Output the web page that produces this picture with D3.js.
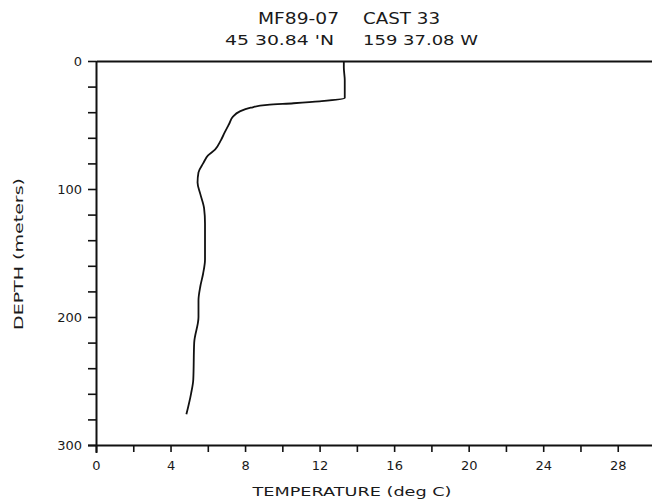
<!DOCTYPE html>
<html><head><meta charset="utf-8">
<script src="https://cdn.jsdelivr.net/npm/d3@7"></script>
<style>
body{margin:0;background:#fff;}
svg{display:block;}
text{font-family:"DejaVu Sans",sans-serif;fill:#1a1a1a;}
</style></head>
<body>
<script>
// Data: temperature (deg C) vs depth (m)
const temperature = [13.3,13.3,13.35,13.35,12.0,10.6,9.2,8.3,7.7,7.35,7.15,6.9,6.7,6.4,6.0,5.75,5.5,5.45,5.6,5.8,5.85,5.85,5.85,5.75,5.6,5.5,5.5,5.27,5.22,5.1,4.85];
const depth       = [0,5,15,29,31.5,33,34.3,36.5,39.5,43.5,49,56,62,69,74,80,87,95,104,115,127,140,155,166,176,187,200,220,249,260,276];
const xTickValues = [0,2,4,6,8,10,12,14,16,18,20,22,24,26,28];
const yTickValues = [0,20,40,60,80,100,120,140,160,180,200,220,240,260,280,300];
const titleLine1 = ["MF89-07","CAST 33"];
const titleLine2 = ["45 30.84 'N","159 37.08 W"];
const xLabel = "TEMPERATURE (deg C)";
const yLabel = "DEPTH (meters)";

const W=652,H=502;
const svg=d3.select("body").append("svg").attr("width",W).attr("height",H);

const x=d3.scaleLinear().domain([0,30]).range([96,655]);
const y=d3.scaleLinear().domain([0,300]).range([61,445]);

// Left axis
const ya=svg.append("g").attr("transform","translate(96,0)")
  .call(d3.axisLeft(y).tickValues(yTickValues).tickSize(8).tickPadding(6)
    .tickFormat(d=>d%100===0?d:""));
// Bottom axis
const xa=svg.append("g").attr("transform","translate(0,445)")
  .call(d3.axisBottom(x).tickValues(xTickValues).tickSize(7).tickPadding(9)
    .tickFormat(d=>d%4===0?d:""));
// Top axis (plain line)
const ta=svg.append("g").attr("transform","translate(0,61)")
  .call(d3.axisTop(x).tickValues([]).tickSizeOuter(0));

[ya,xa,ta].forEach(g=>{
  g.selectAll("path.domain").attr("stroke","#111").attr("stroke-width",2);
  g.selectAll(".tick line").attr("stroke","#111").attr("stroke-width",1.6);
  g.selectAll(".tick text").style("font-family","DejaVu Sans").style("font-size","13px").attr("fill","#1a1a1a");
});
xa.select("path.domain").attr("d","M88,0.5H655");
ya.select("path.domain").attr("d","M0.5,61V453");

// Curve
const pts=temperature.map((t,i)=>[t,depth[i]]);
svg.append("path").datum(pts)
  .attr("fill","none").attr("stroke","#111").attr("stroke-width",1.8)
  .attr("stroke-linejoin","round")
  .attr("d",d3.line().x(d=>x(d[0])).y(d=>y(d[1])).curve(d3.curveMonotoneY));

// Titles
const t1=[[258,339],[363,440]], t2=[[225,334],[363,478]];
titleLine1.forEach((s,i)=>svg.append("text").attr("x",t1[i][0]).attr("y",24)
  .attr("textLength",t1[i][1]-t1[i][0]).attr("lengthAdjust","spacingAndGlyphs")
  .style("font-size","16px").text(s));
titleLine2.forEach((s,i)=>svg.append("text").attr("x",t2[i][0]).attr("y",45)
  .attr("textLength",t2[i][1]-t2[i][0]).attr("lengthAdjust","spacingAndGlyphs")
  .style("font-size","14px").text(s));

// Axis labels
svg.append("text").attr("x",352).attr("y",496).attr("text-anchor","middle")
  .attr("textLength",199).attr("lengthAdjust","spacingAndGlyphs")
  .style("font-size","13px").text(xLabel);
svg.append("text").attr("transform","translate(23,254) rotate(-90)").attr("text-anchor","middle")
  .attr("textLength",152).attr("lengthAdjust","spacingAndGlyphs")
  .style("font-size","13px").text(yLabel);
</script>
</body></html>
